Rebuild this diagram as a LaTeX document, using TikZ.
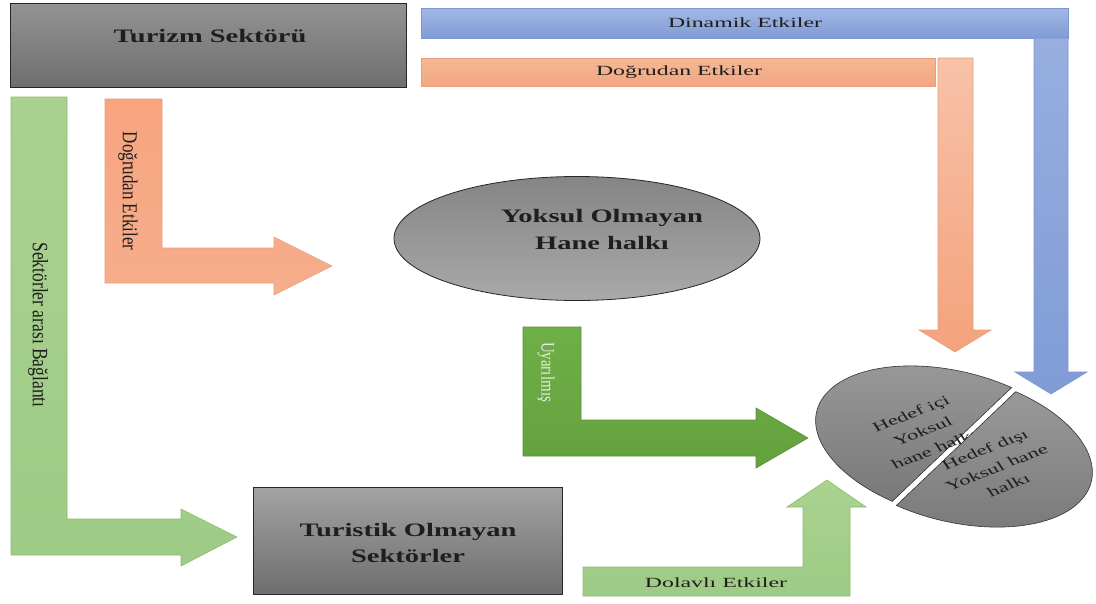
\documentclass[tikz,border=0pt]{standalone}
\usepackage{fontspec}
\usepackage{graphicx}
\setmainfont{Liberation Serif}
\newfontfamily\bigfont{Liberation Serif}[FakeStretch=1.5]
\newfontfamily\smallfont{Liberation Serif}[FakeStretch=1.7]
\newfontfamily\tiltfont{Liberation Serif}[FakeStretch=1.3]
\usetikzlibrary{shapes.geometric}
\definecolor{gtopA}{HTML}{939393}
\definecolor{gbotA}{HTML}{747474}
\definecolor{gtopB}{HTML}{A3A3A3}
\definecolor{gbotB}{HTML}{6E6E6E}
\definecolor{gtopC}{HTML}{858585}
\definecolor{gbotC}{HTML}{A9A9A9}
\definecolor{gtopD}{HTML}{999999}
\definecolor{gbotD}{HTML}{797979}
\definecolor{orA}{HTML}{F8A47F}
\definecolor{orB}{HTML}{F6AE8C}
\definecolor{orC}{HTML}{F6B897}
\definecolor{orD}{HTML}{F2A680}
\definecolor{orE}{HTML}{F7C2A8}
\definecolor{orF}{HTML}{F4A27C}
\definecolor{orline}{HTML}{E8A07C}
\definecolor{blA}{HTML}{A3B7E3}
\definecolor{blB}{HTML}{8AA3D9}
\definecolor{blC}{HTML}{97AEDF}
\definecolor{blD}{HTML}{809CD6}
\definecolor{blline}{HTML}{7C97D0}
\definecolor{lgA}{HTML}{AAD28F}
\definecolor{lgB}{HTML}{9ECB85}
\definecolor{lgline}{HTML}{8DBB70}
\definecolor{dgA}{HTML}{6FAF47}
\definecolor{dgB}{HTML}{63A13D}
\definecolor{dgline}{HTML}{5A9236}
\definecolor{txt}{HTML}{1E1E1E}
\newcommand{\vtext}[2]{\scalebox{1.25}[1]{\rotatebox{-90}{\fontsize{#1}{#1}\selectfont #2}}}
\begin{document}
\begin{tikzpicture}[x=1pt,y=-1pt,
  graybox/.style={draw=black!85, line width=0.8pt, top color=#1, bottom color=gbotB, inner sep=0pt},
  orangearrow/.style={draw=orline, line width=0.6pt, top color=orA, bottom color=orB},
  bluearrow/.style={draw=blline, line width=0.6pt, top color=#1, bottom color=blD},
  lightgreen/.style={draw=lgline, line width=0.6pt, top color=lgA, bottom color=lgB},
  darkgreen/.style={draw=dgline, line width=0.6pt, top color=dgA, bottom color=dgB},
  boldlabel/.style={font={\bigfont\bfseries\fontsize{19}{26}\selectfont}, text=txt, align=center, inner sep=0pt},
  smalllabel/.style={font={\smallfont\fontsize{14}{17}\selectfont}, text=txt, inner sep=0pt},
  vlabel/.style={text=txt, inner sep=0pt},
  halfpart/.style={draw=black!80, line width=0.6pt, top color=gtopD, bottom color=gbotD}
]
\useasboundingbox[fill=white] (0,0) rectangle (1096,603);

% ---- blue "Dinamik Etkiler" ----
\path[bluearrow=blA] (421,8) rectangle (1068,38);
\path[bluearrow=blC] (1034,38) -- (1068,38) -- (1068,372) -- (1087,372) -- (1051,394)
   -- (1015,372) -- (1034,372) -- cycle;
\node[smalllabel] (dinamik) at (745,23) {Dinamik Etkiler};

% ---- orange top "Doğrudan Etkiler" ----
\path[draw=orline, line width=0.6pt, top color=orC, bottom color=orD] (421,58) rectangle (935,86);
\path[draw=orline, line width=0.6pt, top color=orE, bottom color=orF] (938,58) -- (973,58) -- (973,330)
   -- (991,330) -- (955,352) -- (919,330) -- (938,330) -- cycle;
\node[smalllabel] (dogtop) at (679,72) {Doğrudan Etkiler};

% ---- Turizm Sektörü box ----
\node[graybox=gtopA, minimum width=396pt, minimum height=84pt] (turizm) at (208,45) {};
\node[boldlabel] (turizmtext) at (210,36) {Turizm Sektörü};

% ---- left green "Sektörler arası Bağlantı" ----
\path[lightgreen] (11,97) -- (67,97) -- (67,519) -- (181,519) -- (181,509) -- (237,537)
   -- (181,566) -- (181,555) -- (11,555) -- cycle;
\node[vlabel] (sektorler) at (38,325) {\vtext{17.5}{Sektörler arası Bağlantı}};

% ---- orange left "Doğrudan Etkiler" ----
\path[orangearrow] (105,99) -- (162,99) -- (162,248) -- (274,248) -- (274,237) -- (332,266)
   -- (274,295) -- (274,283) -- (105,283) -- cycle;
\node[vlabel] (dogvert) at (128,191) {\vtext{17}{Doğrudan Etkiler}};

% ---- ellipse ----
\node[ellipse, draw=black!85, line width=0.8pt, top color=gtopC, bottom color=gbotC,
      minimum width=366pt, minimum height=124pt, inner sep=0pt] (yoksul) at (577,238.5) {};
\node[boldlabel, font={\bigfont\bfseries\fontsize{19}{27}\selectfont}] (yoksultext) at (602,229) {Yoksul Olmayan\\Hane halkı};

% ---- Uyarılmış ----
\path[darkgreen] (523,327) -- (581,327) -- (581,420) -- (756,420) -- (756,408) -- (808,438)
   -- (756,468) -- (756,456) -- (523,456) -- cycle;
\node[vlabel, text=white!92!black] (uyarilmis) at (546,372) {\vtext{15}{Uyarılmış}};

% ---- Turistik Olmayan Sektörler ----
\node[graybox=gtopB, minimum width=309pt, minimum height=107pt] (turistik) at (407.5,540.5) {};
\node[boldlabel] (turistiktext) at (408,543) {Turistik Olmayan\\Sektörler};

% ---- Dolavlı Etkiler ----
\path[lightgreen] (583,567) -- (803,567) -- (803,507) -- (787,507) -- (827,480) -- (866,507)
   -- (850,507) -- (850,596) -- (583,596) -- cycle;
\node[smalllabel] (dolayli) at (716,583) {Dolavlı Etkiler};

% ---- split target shape ----
\begin{scope}[shift={(954,446.5)}, rotate=-13.8]
  \begin{scope}[shift={(-2.5,-1.5)}]
    \path[halfpart] (108.6:139.2 and 73.3) arc[start angle=108.6, end angle=288.6, x radius=139.2, y radius=73.3] -- cycle;
  \end{scope}
\end{scope}
\node[inner sep=0pt, text=txt] (icitext) at (923,432)
  {\scalebox{1.3}[1]{\rotatebox{27}{\tiltfont\fontsize{13.5}{20}\selectfont\begin{tabular}{@{}c@{}}Hedef içi\\Yoksul\\hane halkı\end{tabular}}}};
\begin{scope}[shift={(954,446.5)}, rotate=-13.8]
  \begin{scope}[shift={(2.5,1.5)}]
    \path[halfpart] (-71.4:139.2 and 73.3) arc[start angle=-71.4, end angle=108.6, x radius=139.2, y radius=73.3] -- cycle;
  \end{scope}
\end{scope}
\node[inner sep=0pt, text=txt] (disitext) at (997,468)
  {\scalebox{1.3}[1]{\rotatebox{27}{\tiltfont\fontsize{13.5}{20}\selectfont\begin{tabular}{@{}c@{}}Hedef dışı\\Yoksul hane\\halkı\end{tabular}}}};
\end{tikzpicture}
\end{document}
